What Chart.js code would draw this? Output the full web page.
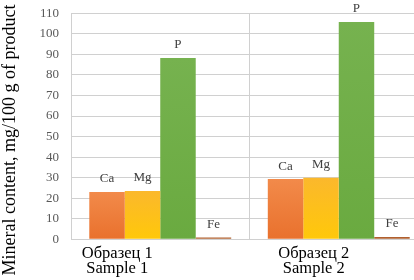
<!DOCTYPE html>
<html><head><meta charset="utf-8">
<script src="https://cdn.jsdelivr.net/npm/chart.js@4.4.1/dist/chart.umd.min.js"></script>
<style>html,body{margin:0;padding:0;background:#fff;overflow:hidden;}#wrap{width:414px;height:280px;position:relative;overflow:hidden;}canvas{display:block;}</style>
</head><body><div id="wrap"><canvas id="c" width="428" height="280" style="width:428px;height:280px"></canvas></div>
<script>
// ---- data ----
const categories = [["Образец 1", "Sample 1"], ["Образец 2", "Sample 2"]];
const seriesNames = ["Ca", "Mg", "P", "Fe"];
const caValues = [23.0, 29.3];
const mgValues = [23.5, 30.0];
const pValues = [88.3, 105.8];
const feValues = [0.9, 1.1];
const yTickValues = [0, 10, 20, 30, 40, 50, 60, 70, 80, 90, 100, 110];
const yTitle = "Mineral content, mg/100 g of product";

// ---- styles ----
const SERIF = '"Liberation Serif", "Times New Roman", serif';
const GRID = '#D0D0D0';
const xLabelShift = [-43, -25];

function barGradient(top, bottom) {
  return (c) => {
    const chart = c.chart;
    const ys = chart.scales && chart.scales.y;
    if (!ys || !c.parsed) return bottom;
    const y0 = ys.getPixelForValue(0);
    const y1 = ys.getPixelForValue(c.parsed.y);
    if (!isFinite(y0) || !isFinite(y1) || y0 === y1) return bottom;
    const g = chart.ctx.createLinearGradient(0, y1, 0, y0);
    g.addColorStop(0, top);
    g.addColorStop(1, bottom);
    return g;
  };
}

const barLabels = {
  id: 'barLabels',
  afterDatasetsDraw(chart) {
    const ctx = chart.ctx;
    ctx.save();
    ctx.font = '13px ' + SERIF;
    ctx.fillStyle = '#404040';
    ctx.textAlign = 'center';
    ctx.textBaseline = 'middle';
    chart.data.datasets.forEach((ds, i) => {
      chart.getDatasetMeta(i).data.forEach(bar => {
        ctx.fillText(ds.label, bar.x, bar.y - 13);
      });
    });
    ctx.restore();
  }
};

const layoutTweaks = {
  id: 'layoutTweaks',
  afterLayout(chart) {
    const t = chart.titleBlock;
    if (t) { t.top = 0; t.bottom = chart.height; t.height = chart.height; }
  },
  beforeDraw(chart) {
    const items = chart.scales.x.getLabelItems();
    if (items._shifted) return;
    items.forEach((it, i) => { it.options.translation[0] += (xLabelShift[i] || 0); });
    items._shifted = true;
  }
};

new Chart(document.getElementById('c'), {
  type: 'bar',
  data: {
    labels: categories,
    datasets: [
      { label: seriesNames[0], data: caValues, backgroundColor: barGradient('#F28A4A', '#E9712D') },
      { label: seriesNames[1], data: mgValues, backgroundColor: barGradient('#FBB82C', '#FFC80A') },
      { label: seriesNames[2], data: pValues, backgroundColor: barGradient('#76B24F', '#6AAA40') },
      { label: seriesNames[3], data: feValues, backgroundColor: '#B0602F' }
    ]
  },
  options: {
    responsive: false,
    animation: false,
    events: [],
    datasets: { bar: { categoryPercentage: 0.795, barPercentage: 1.0, borderWidth: 0 } },
    layout: { padding: { top: 0, bottom: 0, left: 0, right: 0 } },
    plugins: {
      legend: { display: false },
      tooltip: { enabled: false },
      title: {
        display: true, text: yTitle, position: 'left', color: '#000',
        font: { family: SERIF, size: 18, weight: 'normal', lineHeight: 1.1 },
        padding: { top: 0, bottom: 0 }
      }
    },
    scales: {
      x: {
        grid: { display: true, color: GRID, lineWidth: 1, drawTicks: false, offset: true },
        border: { display: true, color: GRID },
        ticks: { color: '#000', font: { family: SERIF, size: 16.5, lineHeight: '15px' }, padding: 7, maxRotation: 0, autoSkip: false },
        afterFit: s => { s.height = 40.7; }
      },
      y: {
        min: 0, max: 110,
        grid: { color: GRID, lineWidth: 1, drawTicks: false },
        border: { display: true, color: GRID },
        ticks: { color: '#595959', font: { family: SERIF, size: 13 }, padding: 12 },
        afterBuildTicks: s => { s.ticks = yTickValues.map(v => ({ value: v })); },
        afterFit: s => { s.width = 51.2; s.paddingTop = 13.3; s.paddingBottom = 0; }
      }
    }
  },
  plugins: [barLabels, layoutTweaks]
});
</script></body></html>
